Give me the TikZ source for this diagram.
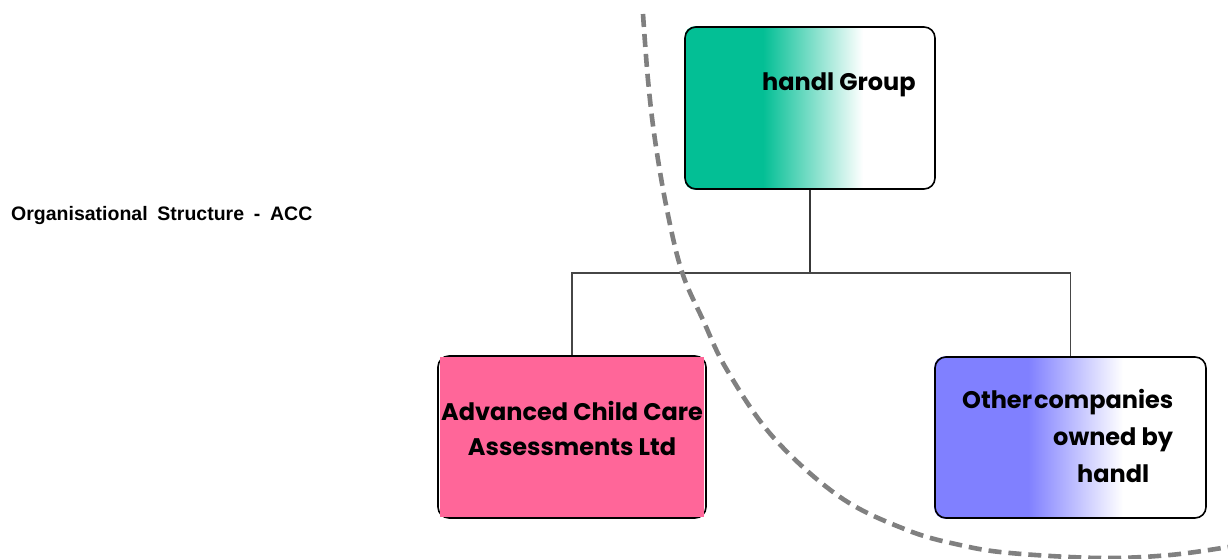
\documentclass[tikz,border=0pt]{standalone}
\usepackage{fontspec}
\usetikzlibrary{backgrounds}
\newfontfamily\popfont{Poppins}
\newfontfamily\titlefont{Liberation Sans}[WordSpace=1.8]
\definecolor{handlgreen}{RGB}{3,191,149}
\definecolor{accpink}{RGB}{255,102,153}
\definecolor{otherblue}{RGB}{128,128,255}
\definecolor{arcgray}{RGB}{128,128,128}
\definecolor{linkgray}{RGB}{70,70,70}
\tikzset{
  orgbox/.style={draw=black, line width=1.6pt, rounded corners=11pt, inner sep=0pt},
  boxtext/.style={inner sep=0pt, font=\popfont\bfseries\fontsize{24}{30}\selectfont},
  trunk/.style={draw=linkgray!80!black, line width=2pt},
  branch/.style={draw=linkgray, line width=1.2pt},
  arcline/.style={draw=arcgray, line width=4.6pt, dash pattern=on 13pt off 7pt},
}
\begin{document}
\begin{tikzpicture}[x=1pt, y=-1pt]
\useasboundingbox (0,0) rectangle (1228,559);

% title
\node[anchor=west, inner sep=0pt, font=\titlefont\bfseries\fontsize{19.5}{23}\selectfont] (title) at (11,215) {Organisational Structure - ACC};

% boxes
\node[orgbox, minimum width=250pt, minimum height=162pt] (top) at (810,108) {};
\node[orgbox, minimum width=268pt, minimum height=162pt] (acc) at (572,437) {};
\node[orgbox, minimum width=271pt, minimum height=161pt] (other) at (1070.5,437.5) {};

% fills behind the borders
\begin{scope}[on background layer]
  \begin{scope}
    \clip[rounded corners=11pt] (top.south west) rectangle (top.north east);
    \fill[handlgreen] (685,20) rectangle (763,195);
    \shade[left color=handlgreen, right color=white] (763,20) rectangle (863,195);
    \fill[white] (863,20) rectangle (940,195);
  \end{scope}
  \begin{scope}
    \clip[rounded corners=11pt] (other.south west) rectangle (other.north east);
    \fill[otherblue] (930,350) rectangle (1028,525);
    \shade[left color=otherblue, right color=white] (1028,350) rectangle (1123,525);
    \fill[white] (1123,350) rectangle (1210,525);
  \end{scope}
\end{scope}
\fill[accpink] (439.5,357) rectangle (704,517);

% box texts
\node[boxtext, anchor=base west] (topname) at (762,91) {handl Group};
\node[boxtext, anchor=base] (accname1) at (572,420) {Advanced Child Care};
\node[boxtext, anchor=base] (accname2) at (572,455) {Assessments Ltd};
\node[boxtext, anchor=base west] (othername1) at (962,408) {Other\hspace{-3pt} companies};
\node[boxtext, anchor=base west] (othername2) at (1053,445) {owned by};
\node[boxtext, anchor=base west] (othername3) at (1077,482) {handl};

% connectors
\coordinate (bus) at (810,273);
\draw[trunk] (top.south) -- (bus);
\draw[branch] (acc.north) |- (bus) -| (other.north);

% dashed boundary arc
\draw[arcline] plot[smooth, tension=0.6] coordinates {
  (643,14) (648,80) (655,140) (667,210) (682,272) (703,320) (727,370)
  (773,437) (840,497) (907,530) (960,545) (1010,553) (1100,558) (1170,555) (1228,547)};
\end{tikzpicture}
\end{document}
